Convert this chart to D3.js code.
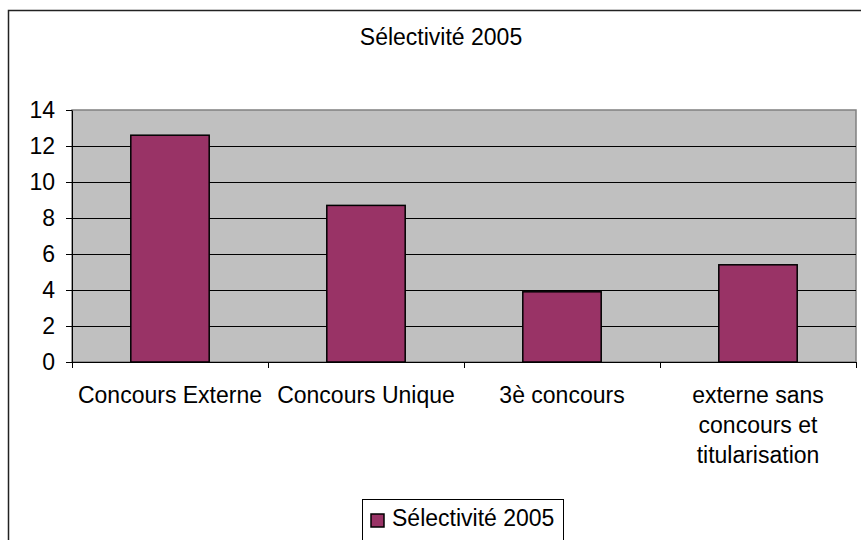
<!DOCTYPE html>
<html>
<head>
<meta charset="utf-8">
<script src="https://cdn.jsdelivr.net/npm/d3@7"></script>
<style>
  html, body { margin: 0; padding: 0; background: #fff; }
  svg { display: block; }
  text { font-family: "Liberation Sans", Arial, sans-serif; fill: #000; }
</style>
</head>
<body>
<svg id="chart" width="861" height="540"></svg>
<script>
const title = "Sélectivité 2005";
const seriesName = "Sélectivité 2005";
const categories = [
  ["Concours Externe"],
  ["Concours Unique"],
  ["3è concours"],
  ["externe sans", "concours et", "titularisation"]
];
const values = [12.6, 8.7, 3.9, 5.4];
const yTicks = [0, 2, 4, 6, 8, 10, 12, 14];

const FS = 23;
const svg = d3.select("#chart");

// outer frame (extends beyond the right/bottom of the image)
svg.append("rect")
  .attr("x", 8.5).attr("y", 10.5)
  .attr("width", 880).attr("height", 560)
  .attr("fill", "#fff").attr("stroke", "#222").attr("stroke-width", 1.5);

const pLeft = 72, pRight = 856, pTop = 110, pBottom = 362;

const x = d3.scaleBand()
  .domain(categories.map((d, i) => i))
  .range([pLeft, pRight])
  .paddingInner(0.6).paddingOuter(0.3);

const y = d3.scaleLinear().domain([0, 14]).range([pBottom, pTop]);

// plot area
svg.append("rect")
  .attr("x", pLeft).attr("y", pTop)
  .attr("width", pRight - pLeft).attr("height", pBottom - pTop)
  .attr("fill", "#C0C0C0").attr("stroke", "#808080").attr("stroke-width", 1.5);

// gridlines
svg.append("g").selectAll("line")
  .data(yTicks.filter(t => t > 0 && t < 14))
  .join("line")
  .attr("x1", pLeft).attr("x2", pRight)
  .attr("y1", d => Math.round(y(d)) + 0.5).attr("y2", d => Math.round(y(d)) + 0.5)
  .attr("stroke", "#000").attr("stroke-width", 1);

// bars
svg.append("g").selectAll("rect")
  .data(values)
  .join("rect")
  .attr("x", (d, i) => x(i))
  .attr("y", d => y(d))
  .attr("width", x.bandwidth())
  .attr("height", d => y(0) - y(d))
  .attr("fill", "#993366")
  .attr("stroke", "#000").attr("stroke-width", 1.5);

// y axis
const yAxis = d3.axisLeft(y).tickValues(yTicks).tickSize(6).tickPadding(11).tickSizeOuter(0);
const gy = svg.append("g").attr("transform", `translate(${pLeft},0)`).call(yAxis);
gy.select(".domain").attr("stroke", "#000");
gy.selectAll(".tick line").attr("stroke", "#000");
gy.selectAll(".tick text").attr("font-size", FS).attr("font-family", "Liberation Sans, Arial, sans-serif").attr("fill", "#000");

// x axis (ticks at band boundaries)
svg.append("line")
  .attr("x1", pLeft - 6).attr("x2", pRight)
  .attr("y1", pBottom + 0.5).attr("y2", pBottom + 0.5)
  .attr("stroke", "#000");
const step = x.step();
const boundaries = d3.range(categories.length + 1).map(i => pLeft + i * step);
svg.append("g").selectAll("line")
  .data(boundaries)
  .join("line")
  .attr("x1", d => Math.round(d) + 0.5).attr("x2", d => Math.round(d) + 0.5)
  .attr("y1", pBottom).attr("y2", pBottom + 6)
  .attr("stroke", "#000");

// x labels
const lab = svg.append("g").selectAll("text")
  .data(categories)
  .join("text")
  .attr("x", (d, i) => x(i) + x.bandwidth() / 2)
  .attr("y", 403)
  .attr("text-anchor", "middle")
  .attr("font-size", FS);
lab.selectAll("tspan")
  .data(d => d)
  .join("tspan")
  .attr("x", function() { return d3.select(this.parentNode).attr("x"); })
  .attr("dy", (d, i) => i === 0 ? 0 : 30)
  .text(d => d);

// title
svg.append("text")
  .attr("x", 441).attr("y", 45)
  .attr("text-anchor", "middle")
  .attr("font-size", FS)
  .text(title);

// legend
const lg = svg.append("g");
lg.append("rect")
  .attr("x", 362.5).attr("y", 499.5)
  .attr("width", 201).attr("height", 60)
  .attr("fill", "#fff").attr("stroke", "#000").attr("stroke-width", 1);
lg.append("rect")
  .attr("x", 371).attr("y", 514)
  .attr("width", 13).attr("height", 13)
  .attr("fill", "#993366").attr("stroke", "#000").attr("stroke-width", 1.5);
lg.append("text")
  .attr("x", 392).attr("y", 526)
  .attr("font-size", FS)
  .text(seriesName);
</script>
</body>
</html>
